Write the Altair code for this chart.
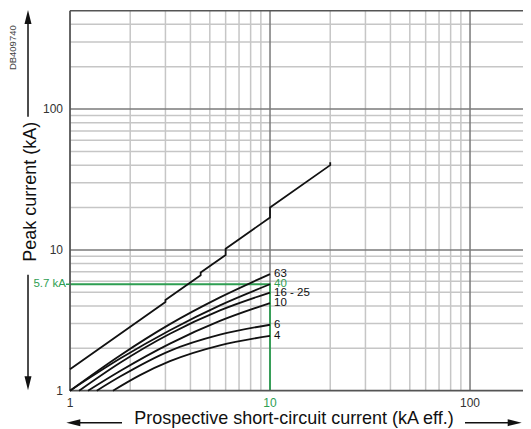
import altair as alt
import pandas as pd

FONT = "Liberation Sans"
GREEN = "#2e9e52"
INK = "#111111"

# Prospective (unlimited) peak current curve (kA eff. -> kA peak)
unl_I = [1, 3, 3, 4.5, 4.5, 6, 6, 10, 10, 20, 20]
unl_Ip = [1.42, 4.26, 4.41, 6.6, 6.9, 9.2, 10.2, 17.0, 20.0, 40.0, 42.0]

# Limited peak current curves, by rating
ratings = ["63", "40", "16 - 25", "10", "6", "4"]
I_63 = [1.0, 1.78, 3.16, 5.62, 10]
Ip_63 = [1.0, 1.78, 2.97, 4.60, 6.73]
I_40 = [1.0, 1.78, 3.16, 5.62, 10]
Ip_40 = [1.0, 1.69, 2.69, 4.04, 5.7]
I_16_25 = [1.11, 1.78, 3.16, 5.62, 10]
Ip_16_25 = [1.0, 1.58, 2.54, 3.72, 4.98]
I_10 = [1.23, 1.78, 3.16, 5.62, 10]
Ip_10 = [1.0, 1.38, 2.16, 3.13, 4.19]
I_6 = [1.36, 1.78, 3.16, 5.62, 10]
Ip_6 = [1.0, 1.26, 1.92, 2.50, 2.94]
I_4 = [1.64, 2.24, 3.16, 5.62, 10]
Ip_4 = [1.0, 1.29, 1.62, 2.10, 2.45]

label_dy = [-2, 0, 1, 0, -2, 1]
label_color = [INK, GREEN, INK, INK, INK, INK]

# Guide at 10 kA -> 5.7 kA peak
guide_I = [1, 10, 10]
guide_Ip = [5.7, 5.7, 1]

# Axis ticks and grid
x_ticks = [1, 10, 100]
x_tick_labels = ["1", "10", "100"]
x_tick_colors = ["#333333", GREEN, "#333333"]
y_ticks = [1, 10, 100]
y_tick_labels = ["1", "10", "100"]
x_minor = [2, 3, 4, 5, 6, 7, 8, 9, 20, 30, 40, 50, 60, 70, 80, 90]
x_major = [10, 100]
y_minor = [2, 3, 4, 5, 6, 7, 8, 9, 20, 30, 40, 50, 60, 70, 80, 90, 200, 300, 400]
y_major = [10, 100]
y_top = [500]
x_left = [1]
y_bottom = [1]

xs = alt.Scale(type="log", domain=[1, 184], nice=False)
ys = alt.Scale(type="log", domain=[1, 500], nice=False)

curves_I = [I_63, I_40, I_16_25, I_10, I_6, I_4]
curves_Ip = [Ip_63, Ip_40, Ip_16_25, Ip_10, Ip_6, Ip_4]
rows = []
for name, Is, Ips in zip(ratings, curves_I, curves_Ip):
    for k, (a, b) in enumerate(zip(Is, Ips)):
        rows.append({"curve": name, "o": k, "I": a, "Ip": b})
lim_df = pd.DataFrame(rows)
unl_df = pd.DataFrame({"I": unl_I, "Ip": unl_Ip, "o": list(range(len(unl_I)))})
lab_df = pd.DataFrame({
    "label": ratings,
    "I": [c[-1] for c in curves_I],
    "Ip": [c[-1] for c in curves_Ip],
    "color": label_color,
    "dy": label_dy,
})
guide_df = pd.DataFrame({"I": guide_I, "Ip": guide_Ip, "o": [0, 1, 2]})
one = pd.DataFrame({"a": [0]})


def X(field="I:Q"):
    return alt.X(field, scale=xs, axis=None)


def Y(field="Ip:Q"):
    return alt.Y(field, scale=ys, axis=None)


def rules_x(vals, color, w):
    return alt.Chart(pd.DataFrame({"g": vals})).mark_rule(color=color, strokeWidth=w).encode(x=X("g:Q"))


def rules_y(vals, color, w):
    return alt.Chart(pd.DataFrame({"g": vals})).mark_rule(color=color, strokeWidth=w).encode(y=Y("g:Q"))


grid = [
    rules_x(x_minor, "#c6c6c6", 1.5),
    rules_y(y_minor, "#c6c6c6", 1.5),
    rules_x(x_major, "#7a7a7a", 1.5),
    rules_y(y_major, "#7a7a7a", 1.5),
    rules_y(y_top, "#555555", 1.5),
]

guide = alt.Chart(guide_df).mark_line(color=GREEN, strokeWidth=1.8).encode(
    x=X(), y=Y(), order="o:Q")

frame = [
    rules_x(x_left, "#555555", 1.8),
    rules_y(y_bottom, "#555555", 1.8),
]

unl = alt.Chart(unl_df).mark_line(color=INK, strokeWidth=1.8).encode(
    x=X(), y=Y(), order="o:Q")

lim = alt.Chart(lim_df).mark_line(color=INK, strokeWidth=1.8, interpolate="monotone").encode(
    x=X(), y=Y(), detail="curve:N", order="o:Q")

labels = alt.Chart(lab_df).mark_text(align="left", baseline="middle", dx=4,
                                     font=FONT, fontSize=11.5).encode(
    x=X(), y=Y(), text="label:N",
    color=alt.Color("color:N", scale=None), yOffset="dy:Q")

xlab = alt.Chart(pd.DataFrame({"v": x_ticks, "t": x_tick_labels, "c": x_tick_colors})).mark_text(
    align="center", baseline="middle", font=FONT, fontSize=12).encode(
    x=X("v:Q"), y=alt.value(392), text="t:N", color=alt.Color("c:N", scale=None))
ylab = alt.Chart(pd.DataFrame({"v": y_ticks, "t": y_tick_labels})).mark_text(
    align="right", baseline="middle", font=FONT, fontSize=12, color="#333333").encode(
    x=alt.value(-7), y=Y("v:Q"), text="t:N")

kA_label = alt.Chart(pd.DataFrame({"Ip": [5.7], "t": ["5.7 kA"]})).mark_text(
    align="right", baseline="middle", font=FONT, fontSize=11.5, color=GREEN).encode(
    x=alt.value(-4), y=Y(), text="t:N")
kA_dash = alt.Chart(pd.DataFrame({"Ip": [5.7]})).mark_rule(color=GREEN, strokeWidth=1.5).encode(
    x=alt.value(-4), x2=alt.value(0), y=Y())

y_title = alt.Chart(one).mark_text(text="Peak current (kA)", angle=270, font=FONT,
                                   fontSize=18, align="center", baseline="middle",
                                   color="#111111").encode(
    x=alt.value(-39), y=alt.value(181))
x_title = alt.Chart(one).mark_text(text="Prospective short-circuit current (kA eff.)",
                                   font=FONT, fontSize=18, align="center",
                                   baseline="middle", color="#111111").encode(
    x=alt.value(224), y=alt.value(408.5))
code = alt.Chart(one).mark_text(text="DB409740", angle=270, font=FONT, fontSize=9.5,
                                align="center", baseline="middle", color="#444444").encode(
    x=alt.value(-57.5), y=alt.value(37))


def head(shape, x, y):
    return alt.Chart(one).mark_point(shape=shape, filled=True, size=196, color=INK,
                                     opacity=1).encode(x=alt.value(x), y=alt.value(y))


AY = 412
arrows = [
    alt.Chart(one).mark_rule(color=INK, strokeWidth=1.5).encode(
        x=alt.value(-42), y=alt.value(6), y2=alt.value(106)),
    head("M -0.5 1 L 0 -1 L 0.5 1 Z", -42, 6.3),
    alt.Chart(one).mark_rule(color=INK, strokeWidth=1.5).encode(
        x=alt.value(-42), y=alt.value(264), y2=alt.value(372)),
    head("M -0.5 -1 L 0 1 L 0.5 -1 Z", -42, 372.5),
    alt.Chart(one).mark_rule(color=INK, strokeWidth=1.5).encode(
        x=alt.value(3), x2=alt.value(52), y=alt.value(AY)),
    head("M 1 -0.5 L -1 0 L 1 0.5 Z", 3.3, AY),
    alt.Chart(one).mark_rule(color=INK, strokeWidth=1.5).encode(
        x=alt.value(395), x2=alt.value(445), y=alt.value(AY)),
    head("M -1 -0.5 L 1 0 L -1 0.5 Z", 444.7, AY),
]

chart = alt.layer(
    *grid, guide, *frame, unl, lim, labels, xlab, ylab, kA_label, kA_dash,
    y_title, x_title, code, *arrows,
).properties(
    width=453, height=380,
    autosize=alt.AutoSizeParams(type="none"),
    padding={"left": 62, "top": 2.7, "right": 0, "bottom": 38},
    background="white",
).configure_view(stroke=None)

chart.save("out.html", embed_options={"renderer": "svg", "actions": False})
